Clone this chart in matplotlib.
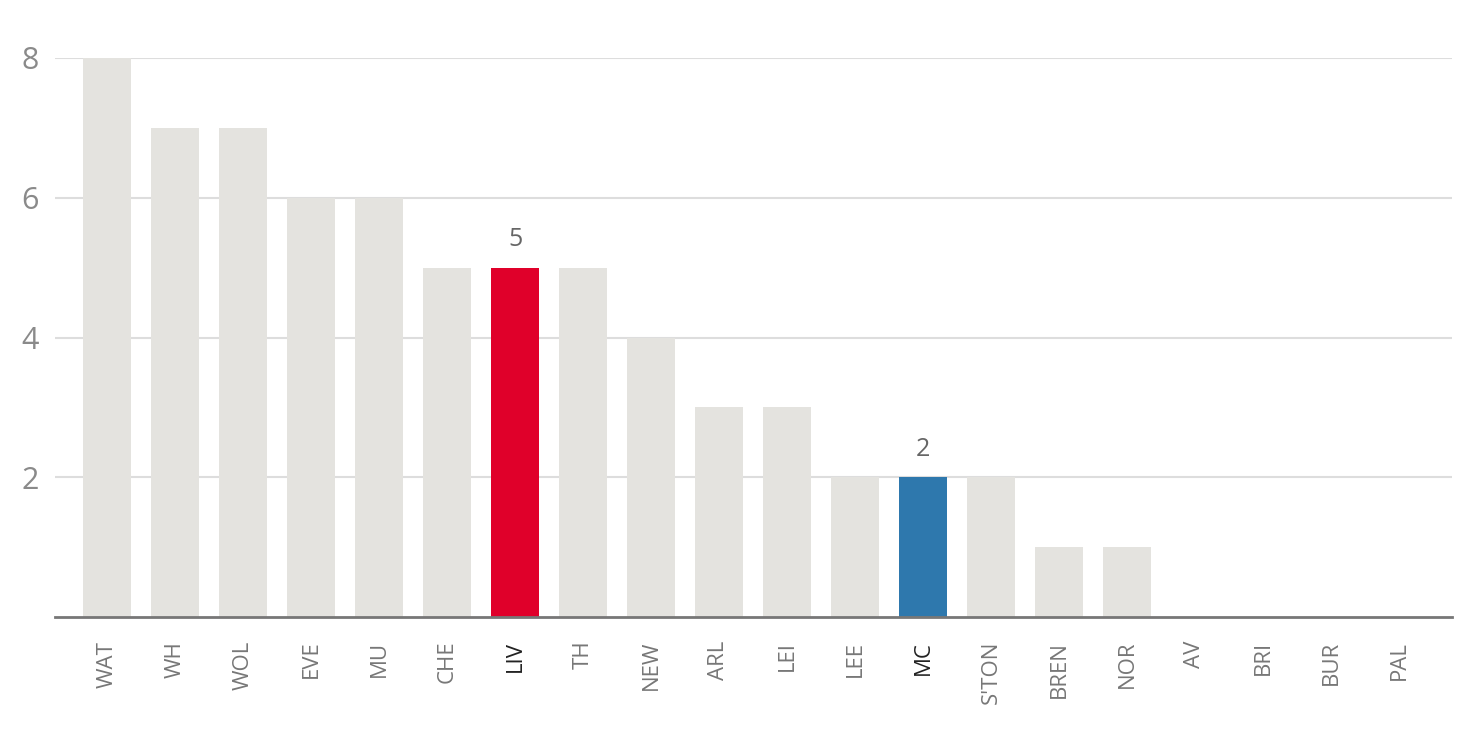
import matplotlib
matplotlib.use("Agg")
import matplotlib.pyplot as plt

teams = ["WAT", "WH", "WOL", "EVE", "MU", "CHE", "LIV", "TH", "NEW", "ARL",
         "LEI", "LEE", "MC", "S'TON", "BREN", "NOR", "AV", "BRI", "BUR", "PAL"]
values = [8, 7, 7, 6, 6, 5, 5, 5, 4, 3, 3, 2, 2, 2, 1, 1, 0, 0, 0, 0]
highlight = {"LIV": "#e0002a", "MC": "#2e78ad"}

plt.rcParams['font.family'] = ['Open Sans', 'DejaVu Sans']

fig = plt.figure(figsize=(14.6, 7.5), dpi=100)
ax = fig.add_axes([0.0377, 0.1773, 0.9568, 0.7454])

colors = [highlight.get(t, "#e4e3df") for t in teams]
x = list(range(len(teams)))
bars = ax.bar(x, values, width=0.706, color=colors, zorder=2)

for i, t in enumerate(teams):
    if t in highlight:
        ax.text(i, values[i] + 0.22, str(values[i]), ha="center", va="bottom",
                fontsize=18, color="#666666")

ax.set_xlim(-0.765, len(teams) - 0.22)
ax.set_ylim(0, 8)
ax.set_yticks([2, 4, 6, 8])
ax.yaxis.grid(True, color="#dddddd", linewidth=1.5, zorder=0)
ax.set_axisbelow(True)

for s in ["top", "right", "left"]:
    ax.spines[s].set_visible(False)
ax.spines["bottom"].set_color("#777777")
ax.spines["bottom"].set_linewidth(2)

ax.tick_params(axis="y", length=0, labelsize=22, labelcolor="#8a8a8a", pad=12)
ax.tick_params(axis="x", length=0, pad=17)
ax.set_xticks(x)
ax.set_xticklabels(teams, rotation=90, fontsize=16, va="top")
for lbl, t in zip(ax.get_xticklabels(), teams):
    lbl.set_color("#222222" if t in highlight else "#777777")

fig.savefig("out.png", dpi=100)
